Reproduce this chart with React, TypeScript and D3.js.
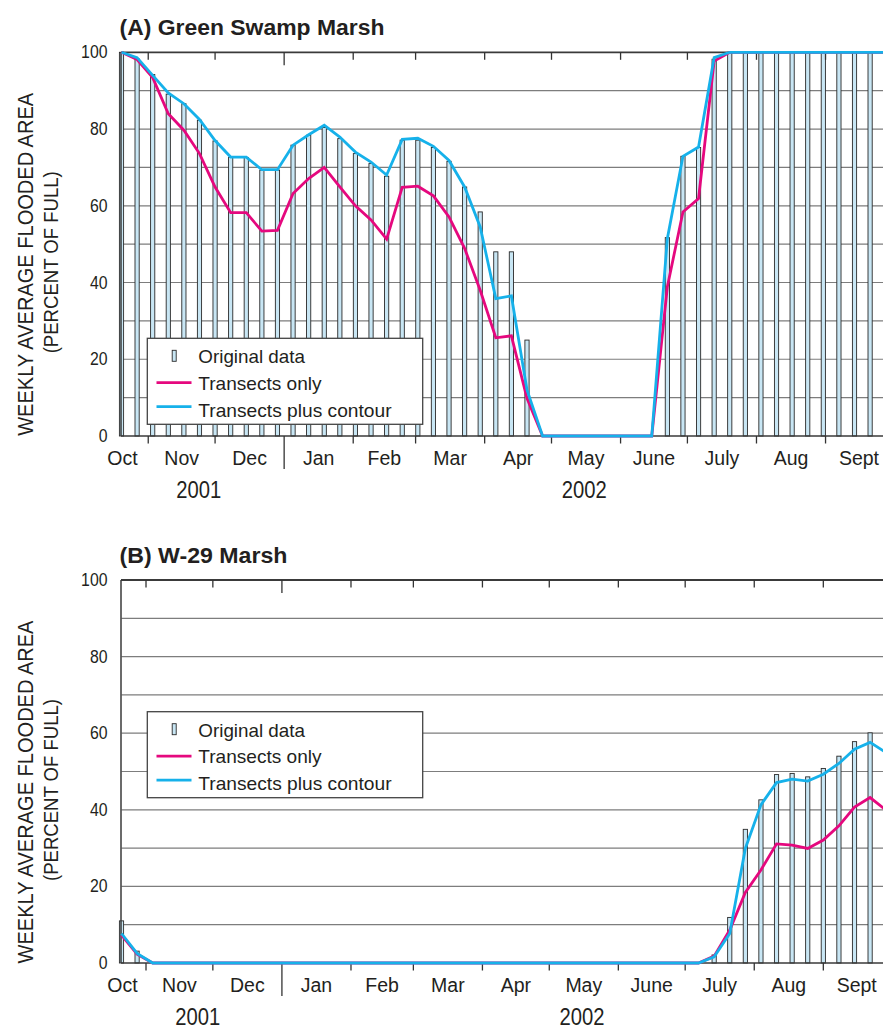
import React from "react";
import * as d3 from "d3";

// ---------- data ----------
const monthLabels = ["Oct", "Nov", "Dec", "Jan", "Feb", "Mar", "Apr", "May", "June", "July", "Aug", "Sept"];
const yearLabels = ["2001", "2002"];
const yTickValues = [0, 20, 40, 60, 80, 100];
const legendLabels = ["Original data", "Transects only", "Transects plus contour"];
const yLabelLines = ["WEEKLY AVERAGE FLOODED AREA", "(PERCENT OF FULL)"];

// (A) Green Swamp Marsh, weekly values (percent of full)
const greenOriginal = [
  100, 98.3, 94.2, 89.1, 86.6, 82.3, 76.9, 72.6, 72.6, 69.3, 69.3, 75.8, 78.4, 80.4, 77.5, 73.6, 71.0, 67.7,
  77.1, 77.1, 75.2, 71.6, 64.9, 58.4, 48.0, 48.0, 25.0, 0, 0, 0, 0, 0, 0, 0, 0, 51.7, 72.9, 75.2, 98.2,
  100, 100, 100, 100, 100, 100, 100, 100, 100, 100, 100,
];
const greenTransects = [
  100, 98.1, 93.4, 84.0, 79.7, 73.6, 64.9, 58.2, 58.2, 53.4, 53.6, 63.2, 67.1, 70.0, 64.9, 60.0, 56.3, 51.3,
  64.8, 65.1, 62.6, 57.1, 48.9, 38.0, 25.6, 26.1, 9.8, 0, 0, 0, 0, 0, 0, 0, 0, 38.9, 58.4, 61.9, 97.7,
  100, 100, 100, 100, 100, 100, 100, 100, 100, 100, 100,
];
const greenContour = [
  100, 98.6, 94.0, 89.4, 86.6, 82.5, 77.0, 72.7, 72.7, 69.4, 69.4, 75.8, 78.5, 81.0, 77.9, 74.0, 71.4, 68.0,
  77.3, 77.6, 75.5, 71.8, 64.9, 54.5, 35.8, 36.5, 12.0, 0, 0, 0, 0, 0, 0, 0, 0, 51.5, 72.9, 75.3, 98.6,
  100, 100, 100, 100, 100, 100, 100, 100, 100, 100, 100,
];

// (B) W-29 Marsh, weekly values (percent of full)
const w29Original = [
  11.0, 3.1, 0, 0, 0, 0, 0, 0, 0, 0, 0, 0, 0, 0, 0, 0, 0, 0, 0, 0, 0, 0, 0, 0, 0, 0, 0, 0, 0, 0, 0, 0, 0, 0, 0,
  0, 0, 0, 2.1, 11.9, 34.9, 42.6, 49.2, 49.5, 48.6, 50.8, 54.0, 57.8, 60.1, 58.0,
];
const w29Transects = [
  7.3, 2.3, 0, 0, 0, 0, 0, 0, 0, 0, 0, 0, 0, 0, 0, 0, 0, 0, 0, 0, 0, 0, 0, 0, 0, 0, 0, 0, 0, 0, 0, 0, 0, 0, 0,
  0, 0, 0, 1.8, 8.6, 18.4, 24.3, 31.1, 30.8, 29.9, 32.1, 35.8, 40.7, 43.2, 40.0,
];
const w29Contour = [
  7.7, 2.5, 0, 0, 0, 0, 0, 0, 0, 0, 0, 0, 0, 0, 0, 0, 0, 0, 0, 0, 0, 0, 0, 0, 0, 0, 0, 0, 0, 0, 0, 0, 0, 0, 0,
  0, 0, 0, 1.6, 7.7, 29.9, 41.3, 47.1, 48.0, 47.5, 49.3, 52.1, 55.8, 57.6, 55.0,
];

// ---------- style ----------
const W = 883;
const H = 1030;
const LEFT = 121.5;
const PX_PER_DAY = 2.228;
const TEXT = "#231f20";
const PINK = "#e5087e";
const BLUE = "#16b1ea";
const BAR_FILL = "#c8e6f4";
const SANS = "'Liberation Sans', Arial, Helvetica, sans-serif";
const DIGIT_W = 8.8; // condensed digit advance used for numeric labels

type PanelProps = {
  title: string;
  titleLength: number;
  start: Date;
  original: number[];
  transects: number[];
  contour: number[];
  top: number;
  height: number;
  legendTop: number;
};

function Panel({ title, titleLength, start, original, transects, contour, top, height, legendTop }: PanelProps) {
  const end = new Date(2002, 9, 1);
  const days = d3.timeDay.count(start, end);
  const x = d3.scaleTime().domain([start, end]).range([LEFT, LEFT + days * PX_PER_DAY]);
  const y = d3.scaleLinear().domain([0, 100]).range([top + height, top]);
  const dates = original.map((_, i) => d3.timeDay.offset(start, 7 * i));
  const right = x(end);
  const base = y(0);
  const grid = d3.range(10, 100, 10);
  const monthStarts = d3.timeMonth.range(new Date(2001, 9, 1), end);
  const jan = new Date(2002, 0, 1);
  const lineGen = d3
    .line<number>()
    .x((_, i) => x(dates[i]))
    .y((v) => y(v));

  const monthLabelX = monthStarts.map((ms) => {
    const mid = (x(ms) + x(d3.timeMonth.offset(ms, 1))) / 2;
    return Math.max(mid, LEFT + 1);
  });
  const yearX = [(LEFT + x(jan)) / 2 - 4, (x(jan) + right) / 2 - 4];
  const labelCenterY = top + 212;

  return (
    <g>
      {/* title */}
      <text
        x={119.5}
        y={top - 17.5}
        fontFamily={SANS}
        fontWeight="bold"
        fontSize={22.5}
        fill={TEXT}
        textLength={titleLength}
        lengthAdjust="spacingAndGlyphs"
      >
        {title}
      </text>

      {/* y axis label */}
      <g transform={`translate(33.3, ${labelCenterY}) rotate(-90)`}>
        <text
          textAnchor="middle"
          fontFamily={SANS}
          fontSize={22.5}
          fill={TEXT}
          textLength={343}
          lengthAdjust="spacingAndGlyphs"
        >
          {yLabelLines[0]}
        </text>
      </g>
      <g transform={`translate(57.8, ${labelCenterY - 2}) rotate(-90)`}>
        <text
          textAnchor="middle"
          fontFamily={SANS}
          fontSize={21}
          fill={TEXT}
          textLength={182}
          lengthAdjust="spacingAndGlyphs"
        >
          {yLabelLines[1]}
        </text>
      </g>

      {/* gridlines */}
      {grid.map((g) => (
        <line key={g} x1={LEFT} x2={right} y1={y(g)} y2={y(g)} stroke="#7d7d7d" strokeWidth={1.2} />
      ))}

      {/* bars */}
      {original.map((v, i) =>
        v > 0 ? (
          <rect
            key={i}
            x={x(dates[i]) - 2.1}
            y={y(v)}
            width={4.2}
            height={base - y(v)}
            fill={BAR_FILL}
            stroke="#2a2a2a"
            strokeWidth={0.9}
          />
        ) : null
      )}

      {/* frame */}
      <line x1={LEFT - 0.5} x2={right} y1={y(100)} y2={y(100)} stroke="#3a3a3a" strokeWidth={1.8} />
      <line x1={LEFT - 0.5} x2={right} y1={base} y2={base} stroke="#3a3a3a" strokeWidth={1.5} />
      <line x1={LEFT - 0.5} x2={LEFT - 0.5} y1={y(100)} y2={base} stroke="#3a3a3a" strokeWidth={1.5} />

      {/* month ticks */}
      {monthStarts.slice(1).map((ms, i) => {
        const isYear = ms.getTime() === jan.getTime();
        const xx = x(ms);
        return (
          <g key={i}>
            <line x1={xx} x2={xx} y1={y(100)} y2={y(100) + (isYear ? 13 : 7.5)} stroke="#333" strokeWidth={1.3} />
            <line x1={xx} x2={xx} y1={base} y2={base + (isYear ? 33 : 7.5)} stroke="#333" strokeWidth={1.3} />
          </g>
        );
      })}

      {/* series lines */}
      <path d={lineGen(transects) || ""} fill="none" stroke={PINK} strokeWidth={2.8} />
      <path d={lineGen(contour) || ""} fill="none" stroke={BLUE} strokeWidth={2.8} />

      {/* y tick labels */}
      {yTickValues.map((t) => (
        <text
          key={t}
          x={107.5}
          y={y(t) + 6}
          textAnchor="end"
          fontFamily={SANS}
          fontSize={18}
          fill={TEXT}
          textLength={String(t).length * DIGIT_W}
          lengthAdjust="spacingAndGlyphs"
        >
          {t}
        </text>
      ))}

      {/* month labels */}
      {monthLabels.map((m, i) => (
        <text
          key={m}
          x={monthLabelX[i]}
          y={base + 28.5}
          textAnchor="middle"
          fontFamily={SANS}
          fontSize={19.5}
          fill={TEXT}
        >
          {m}
        </text>
      ))}

      {/* year labels */}
      {yearLabels.map((yl, i) => (
        <text
          key={yl}
          x={yearX[i]}
          y={base + 62}
          textAnchor="middle"
          fontFamily={SANS}
          fontSize={24.5}
          fill={TEXT}
          textLength={45}
          lengthAdjust="spacingAndGlyphs"
        >
          {yl}
        </text>
      ))}

      {/* legend */}
      <g>
        <rect x={147.3} y={legendTop} width={275.4} height={86} fill="#fff" stroke="#444" strokeWidth={1.3} />
        <rect x={172.2} y={legendTop + 12} width={4} height={11} fill={BAR_FILL} stroke="#2a2a2a" strokeWidth={0.9} />
        <line x1={156.5} x2={191.5} y1={legendTop + 44.4} y2={legendTop + 44.4} stroke={PINK} strokeWidth={2.8} />
        <line x1={156.5} x2={191.5} y1={legendTop + 68.4} y2={legendTop + 68.4} stroke={BLUE} strokeWidth={2.8} />
        {legendLabels.map((l, i) => (
          <text
            key={l}
            x={198.3}
            y={legendTop + 25 + i * 26.7}
            fontFamily={SANS}
            fontSize={18.5}
            fill={TEXT}
            textLength={[106.7, 123.3, 193.3][i]}
            lengthAdjust="spacingAndGlyphs"
          >
            {l}
          </text>
        ))}
      </g>
    </g>
  );
}

export default function App() {
  return (
    <svg
      width={W}
      height={H}
      viewBox={`0 0 ${W} ${H}`}
      style={{ position: "absolute", left: 0, top: 0, background: "#fff" }}
    >
      <Panel
        title="(A) Green Swamp Marsh"
        titleLength={265}
        start={new Date(2001, 9, 20)}
        original={greenOriginal}
        transects={greenTransects}
        contour={greenContour}
        top={52.3}
        height={383.7}
        legendTop={338.3}
      />
      <Panel
        title="(B) W-29 Marsh"
        titleLength={168}
        start={new Date(2001, 9, 21)}
        original={w29Original}
        transects={w29Transects}
        contour={w29Contour}
        top={580}
        height={383}
        legendTop={711.7}
      />
    </svg>
  );
}
